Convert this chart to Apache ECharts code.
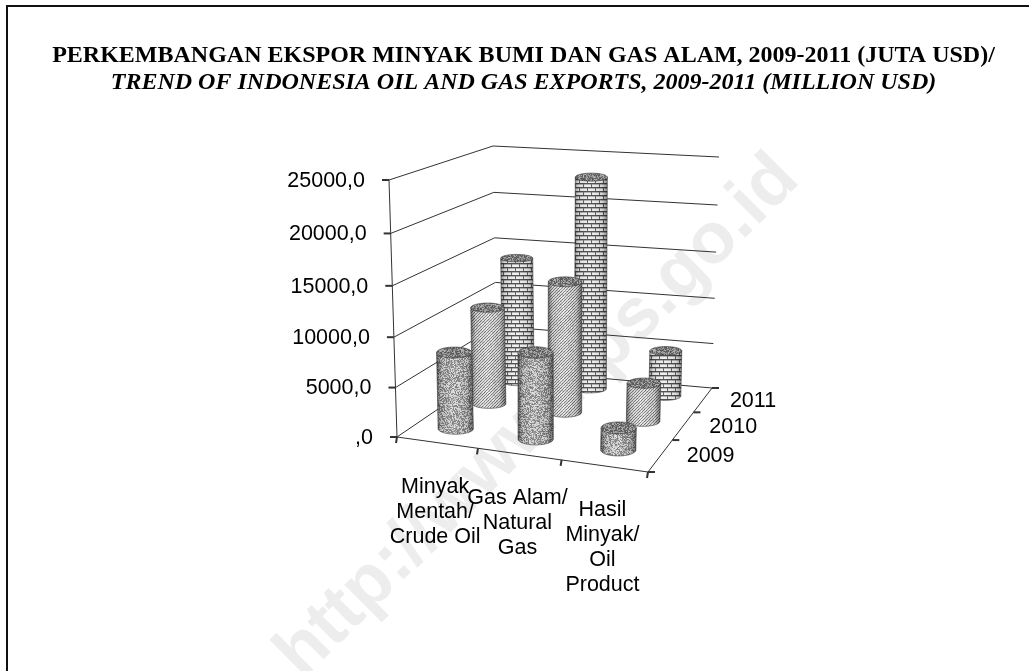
<!DOCTYPE html>
<html><head><meta charset="utf-8">
<style>html,body{margin:0;padding:0;background:#fff}#c{width:1029px;height:671px}</style>
<script src="https://cdn.jsdelivr.net/npm/echarts@6/dist/echarts.min.js"></script>
</head><body><div id="c"></div>
<script>
// ---- data ----
const categories = ['Minyak\nMentah/\nCrude Oil', 'Gas Alam/\nNatural\nGas', 'Hasil\nMinyak/\nOil\nProduct'];
const years = ['2009', '2010', '2011'];
const values2009 = [7800, 8700, 2200];
const values2010 = [10300, 13700, 4000];
const values2011 = [13800, 22900, 5000];
const valueTicks = [0, 5000, 10000, 15000, 20000, 25000];
const tickLabels = [',0', '5000,0', '10000,0', '15000,0', '20000,0', '25000,0'];

// ---- perspective frame of the 3D box: [u=category, v=depth, w=value] ----
const frame = {
  fb0: [397, 437], ft0: [389, 180], fb1: [648, 472], ft1: [655, 200],
  bb0: [497, 369], bt0: [493, 146], bb1: [712, 388], bt1: [719, 157]
};
const plot = { left: 397, top: 180, width: 251, height: 257 };
const warpA = (t, k) => t / (1 + k * (1 - t));
const warpB = (t, k) => t * (1 + k) / (1 + k * t);
function project(u, v, w) {
  const U = warpA(u, 0.05), V = warpB(v, 0.226), W = warpA(w, 0.05);
  const lerp = (a, b, t) => [a[0] + (b[0] - a[0]) * t, a[1] + (b[1] - a[1]) * t];
  const f = lerp(lerp(frame.fb0, frame.fb1, U), lerp(frame.ft0, frame.ft1, U), W);
  const b = lerp(lerp(frame.bb0, frame.bb1, U), lerp(frame.bt0, frame.bt1, U), W);
  return lerp(f, b, V);
}
const toUW = (p) => [(p[0] - plot.left) / plot.width, (plot.top + plot.height - p[1]) / plot.height];

// ---- textures ----
function seeded(s) { return () => (s = (s * 1664525 + 1013904223) >>> 0) / 4294967296; }
function tex(size, fn) {
  const c = document.createElement('canvas'); c.width = c.height = size;
  const x = c.getContext('2d'), d = x.createImageData(size, size);
  for (let j = 0; j < size; j++) for (let i = 0; i < size; i++) {
    const g = fn(i, j), o = (j * size + i) * 4;
    d.data[o] = d.data[o + 1] = d.data[o + 2] = g; d.data[o + 3] = 255;
  }
  x.putImageData(d, 0, 0); return c;
}
const r1 = seeded(11), r2 = seeded(29), r3 = seeded(47);
const stipple = tex(128, () => r1() < 0.5 ? 115 + r1() * 40 : 185 + r1() * 45);
const hatch = tex(96, (i, j) => (((i + j) % 3) === 0 ? 125 : 222) + (r2() - 0.5) * 40);
const brick = tex(16, (i, j) => {
  const row = Math.floor(j / 4), off = row % 2 ? 4 : 0;
  if (j % 4 === 3) return 75;
  if ((i + off) % 8 === 7) return 95;
  return j % 4 === 0 ? 175 : 240;
});
const topTex = tex(64, () => r3() < 0.55 ? 80 + r3() * 40 : 135 + r3() * 50);
const textures = [stipple, hatch, brick];

// ---- renderers ----
const LINE = '#333';
function ellipsePts(c, rx, ry, from, to, n) {
  const pts = [];
  for (let i = 0; i <= n; i++) {
    const a = from + (to - from) * i / n;
    pts.push([c[0] + rx * Math.cos(a), c[1] + ry * Math.sin(a)]);
  }
  return pts;
}
function cylinder(yearIdx) {
  const v = (yearIdx + 0.5) / years.length;
  return function (params, api) {
    const top0 = toUW(api.coord([api.value(0), api.value(1)]));
    const u = toUW(api.coord([api.value(0), 0]))[0];
    const base = project(u, v, 0), head = project(u, v, top0[1]);
    const rx = 18 - 2.4 * v, ry = 6.2 - 2.6 * v + 0.8 * (u - 0.5);
    const body = ellipsePts(base, rx, ry, 0, Math.PI, 24).concat([[head[0] - rx, head[1]], [head[0] + rx, head[1]]]);
    const cap = ellipsePts(head, rx, ry, 0, 2 * Math.PI, 40);
    const edge = yearIdx === 2 ? 0.45 : 0.55;
    return {
      type: 'group', children: [
        { type: 'polygon', shape: { points: body }, style: { fill: { image: textures[yearIdx], repeat: 'repeat' } } },
        { type: 'polygon', shape: { points: body }, style: { stroke: 'rgba(50,50,50,.7)', lineWidth: 0.8,
            fill: { type: 'linear', x: 0, y: 0, x2: 1, y2: 0, colorStops: [
              { offset: 0, color: 'rgba(0,0,0,' + edge + ')' }, { offset: 0.14, color: 'rgba(0,0,0,.1)' },
              { offset: 0.45, color: 'rgba(255,255,255,.06)' }, { offset: 0.82, color: 'rgba(0,0,0,.1)' },
              { offset: 1, color: 'rgba(0,0,0,' + edge + ')' }] } } },
        { type: 'polygon', shape: { points: cap }, style: { fill: { image: topTex, repeat: 'repeat' }, stroke: 'rgba(50,50,50,.7)', lineWidth: 0.8 } }
      ]
    };
  };
}
const polyline = (pts, w) => ({ type: 'polyline', shape: { points: pts }, style: { stroke: LINE, lineWidth: w || 1, fill: 'none' } });
const textEl = (x, y, text, align, vAlign) => ({ type: 'text', x, y, style: { text, fill: '#000', align, verticalAlign: vAlign || 'middle', lineHeight: 25, font: '21.5px "Liberation Sans", Arial, sans-serif' } });
const uOf = (i) => (i + 0.5) / categories.length;
const base = { type: 'custom', coordinateSystem: 'cartesian2d', clip: false, animation: false, silent: true };

const option = {
  animation: false,
  backgroundColor: '#fff',
  graphic: [
    { type: 'text', z: -10, zlevel: 0, x: 538, y: 417, rotation: Math.PI / 4, silent: true,
      style: { text: 'http://www.bps.go.id', fill: '#ededed', align: 'center', verticalAlign: 'middle', font: 'bold 72px "Liberation Sans", Arial, sans-serif' } },
    { type: 'polyline', z: 1, silent: true, shape: { points: [[7, 671], [7, 6], [1029, 6]] }, style: { stroke: '#111', lineWidth: 2, fill: 'none' } }
  ],
  title: [
    { text: 'PERKEMBANGAN EKSPOR MINYAK BUMI DAN GAS ALAM, 2009-2011 (JUTA USD)/', left: 523.5, top: 56, textAlign: 'center', textVerticalAlign: 'middle', padding: 0,
      textStyle: { fontFamily: '"Liberation Serif", serif', fontWeight: 'bold', fontSize: 24, color: '#000' } },
    { text: 'TREND OF INDONESIA OIL AND GAS EXPORTS, 2009-2011 (MILLION USD)', left: 523.5, top: 83, textAlign: 'center', textVerticalAlign: 'middle', padding: 0,
      textStyle: { fontFamily: '"Liberation Serif", serif', fontWeight: 'bold', fontStyle: 'italic', fontSize: 24, color: '#000' } }
  ],
  grid: { left: plot.left, top: plot.top, width: plot.width, height: plot.height },
  xAxis: { type: 'category', data: categories, show: false },
  yAxis: { type: 'value', min: 0, max: 25000, interval: 5000, show: false },
  series: [
    // walls and gridlines
    Object.assign({}, base, { name: 'grid', z: 2, data: valueTicks.map(t => [0, t]),
      renderItem(p, api) {
        const w = toUW(api.coord([0, api.value(1)]))[1];
        return polyline([project(0, 0, w), project(0, 1, w), project(1, 1, w)]);
      } }),
    // axes, ticks
    Object.assign({}, base, { name: 'axes', z: 3, data: [[0, 0]],
      renderItem() {
        const kids = [
          polyline([project(0, 0, 1), project(0, 0, 0), project(1, 0, 0), project(1, 1, 0)])
        ];
        valueTicks.forEach(t => {
          const p = project(0, 0, t / 25000);
          kids.push(polyline([[p[0] - 7, p[1]], p], 2));
        });
        [0, 1 / 3, 2 / 3, 1].forEach(u => {
          const p = project(u, 0, 0);
          kids.push(polyline([p, [p[0] - 1, p[1] + 6]], 2));
        });
        [0, 1 / 3, 2 / 3, 1].forEach(v => {
          const p = project(1, v, 0);
          kids.push(polyline([p, [p[0] + 7, p[1]]], 2));
        });
        return { type: 'group', children: kids };
      } }),
    // cylinders: back row first
    Object.assign({}, base, { name: years[2], z: 4, data: values2011.map((d, i) => [i, d]), renderItem: cylinder(2) }),
    Object.assign({}, base, { name: years[1], z: 5, data: values2010.map((d, i) => [i, d]), renderItem: cylinder(1) }),
    Object.assign({}, base, { name: years[0], z: 6, data: values2009.map((d, i) => [i, d]), renderItem: cylinder(0) }),
    // labels
    Object.assign({}, base, { name: 'labels', z: 7, data: [[0, 0]],
      renderItem() {
        const kids = [];
        valueTicks.forEach((t, i) => {
          const p = project(0, 0, t / 25000);
          kids.push(textEl(p[0] - 24, p[1] + 1, tickLabels[i], 'right'));
        });
        categories.forEach((c, i) => {
          const p = project(uOf(i), 0, 0);
          kids.push(textEl(p[0] - 2, p[1] + 32, c, 'center', 'top'));
        });
        years.forEach((y, i) => {
          const p = project(1, (i + 0.5) / years.length, 0);
          kids.push(textEl(p[0] + 50, p[1] + 1, y, 'center'));
        });
        return { type: 'group', children: kids };
      } })
  ]
};
echarts.init(document.getElementById('c'), null, { renderer: 'canvas', width: 1029, height: 671 }).setOption(option);
</script></body></html>
